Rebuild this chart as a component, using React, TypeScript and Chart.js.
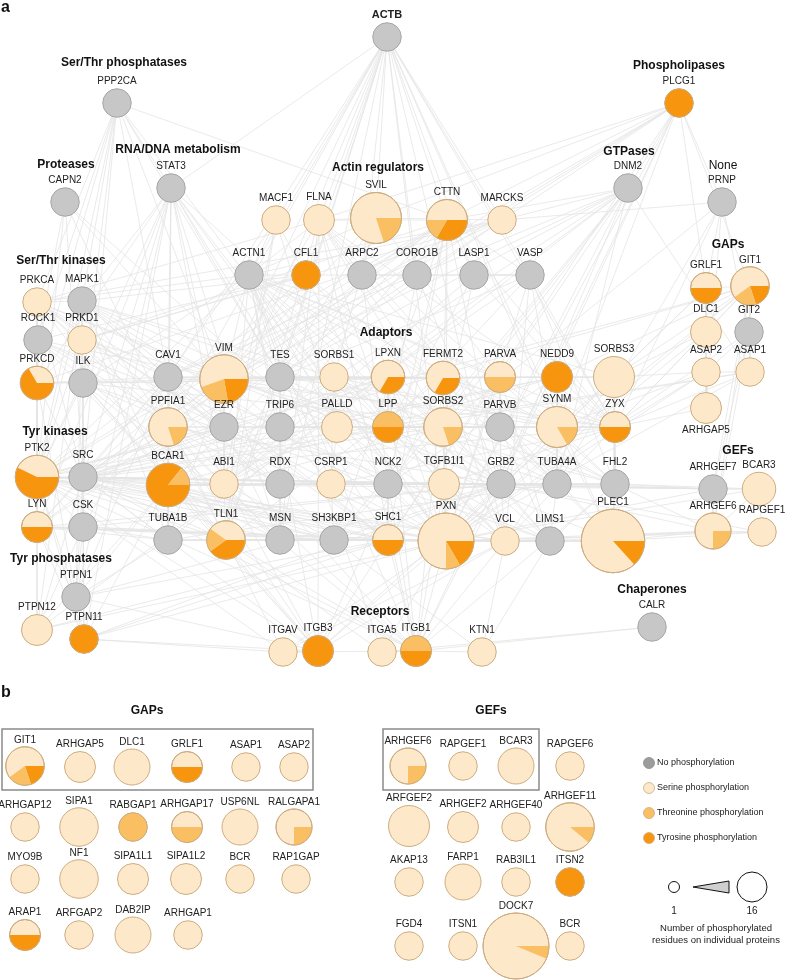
import { useEffect, useRef } from "react";
import { Chart, registerables } from "chart.js";
Chart.register(...registerables);

// [name, x, y, serine, threonine, tyrosine]
type NodeRow = [string, number, number, number, number, number];

const networkNodes: NodeRow[] = [
  ["ACTB", 387, 37, 0, 0, 0],
  ["PPP2CA", 117, 103, 0, 0, 0],
  ["STAT3", 171, 188, 0, 0, 0],
  ["CAPN2", 65, 202, 0, 0, 0],
  ["PLCG1", 679, 103, 0, 0, 1],
  ["DNM2", 628, 188, 0, 0, 0],
  ["PRNP", 722, 202, 0, 0, 0],
  ["MACF1", 276, 220, 1, 0, 0],
  ["FLNA", 319, 220, 2, 0, 0],
  ["SVIL", 376, 218, 8, 2, 0],
  ["CTTN", 447, 220, 3, 1, 2],
  ["MARCKS", 502, 220, 1, 0, 0],
  ["ACTN1", 249, 275, 0, 0, 0],
  ["CFL1", 306, 275, 0, 0, 1],
  ["ARPC2", 362, 275, 0, 0, 0],
  ["CORO1B", 417, 275, 0, 0, 0],
  ["LASP1", 474, 275, 0, 0, 0],
  ["VASP", 530, 275, 0, 0, 0],
  ["GRLF1", 706, 288, 1, 0, 1],
  ["GIT1", 750, 286, 3, 1, 1],
  ["PRKCA", 37, 302, 1, 0, 0],
  ["MAPK1", 82, 301, 0, 0, 0],
  ["ROCK1", 38, 340, 0, 0, 0],
  ["PRKD1", 82, 340, 1, 0, 0],
  ["DLC1", 706, 332, 2, 0, 0],
  ["GIT2", 749, 332, 0, 0, 0],
  ["PRKCD", 37, 383, 1, 0, 2],
  ["ILK", 83, 383, 0, 0, 0],
  ["CAV1", 168, 377, 0, 0, 0],
  ["VIM", 224, 379, 5, 2, 2],
  ["TES", 280, 377, 0, 0, 0],
  ["SORBS1", 334, 377, 1, 0, 0],
  ["LPXN", 388, 377, 2, 0, 1],
  ["FERMT2", 443, 378, 2, 0, 1],
  ["PARVA", 500, 377, 1, 1, 0],
  ["NEDD9", 557, 377, 0, 0, 2],
  ["SORBS3", 614, 377, 6, 0, 0],
  ["ASAP2", 706, 372, 1, 0, 0],
  ["ASAP1", 750, 372, 1, 0, 0],
  ["ARHGAP5", 706, 408, 2, 0, 0],
  ["PPFIA1", 168, 427, 4, 1, 0],
  ["EZR", 224, 427, 0, 0, 0],
  ["TRIP6", 280, 427, 0, 0, 0],
  ["PALLD", 337, 427, 2, 0, 0],
  ["LPP", 388, 427, 0, 1, 1],
  ["SORBS2", 443, 427, 4, 1, 0],
  ["PARVB", 500, 427, 0, 0, 0],
  ["SYNM", 557, 427, 5, 1, 0],
  ["ZYX", 615, 427, 1, 0, 1],
  ["PTK2", 37, 477, 3, 0, 4],
  ["SRC", 83, 477, 0, 0, 0],
  ["BCAR1", 168, 485, 0, 1, 6],
  ["ABI1", 224, 484, 1, 0, 0],
  ["RDX", 280, 484, 0, 0, 0],
  ["CSRP1", 331, 484, 1, 0, 0],
  ["NCK2", 388, 484, 0, 0, 0],
  ["TGFB1I1", 444, 484, 2, 0, 0],
  ["GRB2", 501, 484, 0, 0, 0],
  ["TUBA4A", 557, 484, 0, 0, 0],
  ["FHL2", 615, 484, 0, 0, 0],
  ["ARHGEF7", 713, 489, 0, 0, 0],
  ["BCAR3", 759, 489, 3, 0, 0],
  ["LYN", 37, 527, 1, 0, 1],
  ["CSK", 83, 527, 0, 0, 0],
  ["TUBA1B", 168, 540, 0, 0, 0],
  ["TLN1", 226, 540, 2, 1, 2],
  ["MSN", 280, 540, 0, 0, 0],
  ["SH3KBP1", 334, 540, 0, 0, 0],
  ["SHC1", 388, 540, 1, 0, 1],
  ["PXN", 446, 541, 9, 1, 2],
  ["VCL", 505, 541, 1, 0, 0],
  ["LIMS1", 550, 541, 0, 0, 0],
  ["PLEC1", 613, 541, 13, 0, 2],
  ["ARHGEF6", 713, 531, 3, 1, 0],
  ["RAPGEF1", 762, 532, 1, 0, 0],
  ["PTPN1", 76, 597, 0, 0, 0],
  ["PTPN12", 37, 630, 2, 0, 0],
  ["PTPN11", 84, 639, 0, 0, 1],
  ["CALR", 652, 627, 0, 0, 0],
  ["ITGAV", 283, 652, 1, 0, 0],
  ["ITGB3", 318, 651, 0, 0, 2],
  ["ITGA5", 382, 652, 1, 0, 0],
  ["ITGB1", 416, 651, 0, 1, 1],
  ["KTN1", 482, 652, 1, 0, 0],
];

const gapNodes: NodeRow[] = [
  ["GIT1", 25, 766, 3, 1, 1],
  ["ARHGAP5", 80, 767, 2, 0, 0],
  ["DLC1", 132, 767, 4, 0, 0],
  ["GRLF1", 187, 767, 1, 0, 1],
  ["ASAP1", 246, 767, 1, 0, 0],
  ["ASAP2", 294, 767, 1, 0, 0],
  ["ARHGAP12", 25, 827, 1, 0, 0],
  ["SIPA1", 79, 827, 5, 0, 0],
  ["RABGAP1", 133, 827, 0, 1, 0],
  ["ARHGAP17", 187, 827, 1, 1, 0],
  ["USP6NL", 240, 827, 4, 0, 0],
  ["RALGAPA1", 294, 827, 3, 1, 0],
  ["MYO9B", 25, 879, 1, 0, 0],
  ["NF1", 79, 879, 5, 0, 0],
  ["SIPA1L1", 133, 879, 2, 0, 0],
  ["SIPA1L2", 186, 879, 2, 0, 0],
  ["BCR", 240, 879, 1, 0, 0],
  ["RAP1GAP", 296, 879, 1, 0, 0],
  ["ARAP1", 25, 935, 1, 0, 1],
  ["ARFGAP2", 79, 935, 1, 0, 0],
  ["DAB2IP", 133, 935, 4, 0, 0],
  ["ARHGAP1", 188, 935, 1, 0, 0],
];

const gefNodes: NodeRow[] = [
  ["ARHGEF6", 408, 766, 3, 1, 0],
  ["RAPGEF1", 463, 766, 1, 0, 0],
  ["BCAR3", 516, 766, 4, 0, 0],
  ["RAPGEF6", 570, 766, 1, 0, 0],
  ["ARFGEF2", 409, 826, 6, 0, 0],
  ["ARHGEF2", 463, 827, 2, 0, 0],
  ["ARHGEF40", 516, 827, 1, 0, 0],
  ["ARHGEF11", 570, 827, 8, 1, 0],
  ["AKAP13", 409, 882, 1, 0, 0],
  ["FARP1", 463, 882, 4, 0, 0],
  ["RAB3IL1", 516, 882, 1, 0, 0],
  ["ITSN2", 570, 882, 0, 0, 1],
  ["FGD4", 409, 946, 1, 0, 0],
  ["ITSN1", 463, 946, 1, 0, 0],
  ["DOCK7", 516, 946, 15, 1, 0],
  ["BCR", 570, 946, 1, 0, 0],
];

// interactions: "source:target,target,..."
const adjacency: string[] = [
  "ACTB:SVIL,CTTN,MARCKS,VASP,LASP1,CORO1B,ARPC2,FLNA,CFL1,ACTN1,MACF1,STAT3,VIM,TES,EZR,MSN,TLN1,VCL,PXN,ZYX,PLEC1,CAV1,PPFIA1,SYNM",
  "PPP2CA:PRKCA,MAPK1,ROCK1,PRKCD,ILK,SRC,PTK2,STAT3,VIM,CTTN,PXN,CAV1,TES",
  "STAT3:SRC,PTK2,LYN,MAPK1,PRKCD,CAV1,PXN,TES,BCAR1,EZR,SHC1,GRB2,NCK2,PTPN11,PTPN1,TUBA1B,ABI1,MSN",
  "CAPN2:ROCK1,PTK2,TLN1,SRC,VIM,PXN",
  "PLCG1:CTTN,SVIL,SRC,PTK2,FLNA,DNM2,GIT1,GRLF1,PRNP,ITGB1,VIM,GRB2,SHC1,PXN,SYNM,LYN",
  "DNM2:CTTN,SRC,GRB2,NCK2,SHC1,TUBA4A,PXN,ABI1,SORBS2,VIM,CAV1,ASAP1,BCAR1,SH3KBP1,TUBA1B,MARCKS",
  "PRNP:GIT2,TUBA4A,ZYX,SORBS2,MARCKS,ARHGAP5,GRLF1",
  "MACF1:ACTN1,CAV1,TLN1,PXN,ABI1,PALLD",
  "FLNA:ACTN1,VIM,TLN1,ITGB1,ITGB3,MSN,ZYX,PRKCA,SVIL,GRB2,FHL2,LPP,ARPC2,SORBS2,PLEC1",
  "SVIL:ACTN1,VIM,ARPC2,MARCKS,SORBS1,PARVA,TES",
  "CTTN:SRC,PTK2,ABI1,CORO1B,ARPC2,SHC1,NCK2,GRB2,ZYX,VASP,LASP1,SORBS2,PXN,BCAR1,FLNA,SH3KBP1,CAV1,PRKD1,LYN",
  "MARCKS:PRKCA,PRKCD,PRKD1,CAV1,ACTN1,TES",
  "ACTN1:VIM,ZYX,TES,LPP,PALLD,TRIP6,CSRP1,FHL2,TLN1,VCL,ITGB1,PXN,PTK2,SORBS2,ILK,LIMS1,PARVA,CFL1,SORBS3,PRKCA,SYNM",
  "CFL1:ARPC2,VIM,SRC,LIMS1,MAPK1,TUBA4A,PRKD1,ROCK1",
  "ARPC2:CORO1B,VASP,ABI1,NCK2,TUBA4A",
  "CORO1B:VASP,LPP,GRB2",
  "LASP1:ZYX,LPP,VASP,SORBS2,ABI1",
  "VASP:ZYX,LPP,TES,VCL,ABI1,PXN,FHL2,SYNM",
  "PRKCA:PRKCD,MAPK1,CAV1,VIM,ITGB1,SRC,PTK2,GRB2,TLN1,EZR,MSN,RDX,SHC1",
  "MAPK1:PXN,PTPN1,VIM,FHL2,SHC1,GRB2,SRC,PTK2,BCAR1,ITGB3,SORBS1,TUBA1B,EZR,CAV1,PRKD1,PTPN12",
  "ROCK1:VIM,MSN,EZR,RDX,PTK2,LIMS1,PRKCD,TLN1",
  "PRKD1:PRKCD,VIM,SRC,PTK2,CAV1",
  "PRKCD:SRC,LYN,PTK2,VIM,ILK,CAV1,PTPN11",
  "ILK:PARVA,PARVB,LIMS1,ITGB1,ITGB3,PXN,FERMT2,TLN1,PTK2,SRC",
  "PTK2:SRC,BCAR1,PXN,TLN1,ITGB1,ITGB3,GRB2,SHC1,CAV1,PTPN11,PTPN1,PTPN12,NEDD9,GIT1,ARHGEF7,ASAP1,LPXN,VCL,TGFB1I1,SH3KBP1,LYN,CSK,EZR,ABI1,MSN",
  "SRC:CSK,LYN,BCAR1,PXN,CAV1,SHC1,GRB2,NCK2,ABI1,ITGB3,ITGB1,PTPN1,PTPN11,PTPN12,TUBA1B,TLN1,VIM,NEDD9,SORBS2,TGFB1I1,ARHGEF7,GIT1,ASAP1,SH3KBP1,EZR,VCL,ZYX,LPXN",
  "LYN:CSK,SHC1,GRB2,CAV1,PTPN11,PTPN1,PXN,SH3KBP1,TUBA1B",
  "CSK:PTPN12,PXN,CAV1,PTPN1,SH3KBP1,TUBA1B,GRB2,PTPN11",
  "PTPN1:BCAR1,ITGB3,TUBA1B,GRB2,CAV1,SHC1",
  "PTPN12:PXN,BCAR1,SHC1,LPXN",
  "PTPN11:SHC1,GRB2,BCAR1,ITGB3,ITGAV,PXN",
  "ITGAV:ITGB3,ITGB1,TLN1,PXN,VCL,PTK2",
  "ITGB3:TLN1,FERMT2,SHC1,GRB2,PXN,CAV1,ACTN1,BCAR1,VCL",
  "ITGA5:ITGB1,PXN,TLN1,ACTN1,CALR",
  "ITGB1:TLN1,FERMT2,PXN,CAV1,KTN1,LPXN,VCL,FHL2,TGFB1I1,CALR,GRB2,SHC1,NCK2",
  "KTN1:LIMS1,VCL,SH3KBP1",
  "CAV1:VIM,TES,SORBS1,EZR,PPFIA1,TRIP6,ZYX,SHC1",
  "VIM:PLEC1,SYNM,TES,PPFIA1,EZR,LPXN,TUBA4A,SORBS1,TRIP6,FERMT2,TUBA1B,FHL2",
  "TES:ZYX,LPP,SORBS1,PALLD,TRIP6,LPXN,ABI1",
  "SORBS1:VCL,PXN,LPXN,PALLD,ABI1,SORBS2,GRB2,FERMT2,SYNM,CSRP1",
  "LPXN:PXN,SORBS2,FERMT2,PARVA,TGFB1I1,LPP",
  "FERMT2:PARVA,PXN,TLN1,SYNM,SORBS3,VCL,ZYX,NEDD9",
  "PARVA:PXN,LIMS1,PARVB,NEDD9,SORBS3,TGFB1I1,GRB2,SYNM",
  "NEDD9:BCAR1,NCK2,ZYX,SORBS3,SYNM,TUBA4A,GIT1",
  "SORBS3:VCL,PXN,SYNM,ZYX,ASAP2,DLC1,GIT1,PLEC1,FHL2,GRLF1",
  "PPFIA1:EZR,TRIP6,BCAR1,ABI1,TLN1,RDX,GRB2",
  "EZR:MSN,RDX,TRIP6,PALLD,ABI1,PXN",
  "TRIP6:ZYX,LPP,PALLD,SORBS2,CSRP1,RDX,NCK2",
  "PALLD:LPP,SORBS2,PARVB,NCK2,CSRP1,ABI1,VCL",
  "LPP:ZYX,SORBS2,PARVB,SYNM,TGFB1I1,CSRP1",
  "SORBS2:PARVB,SYNM,ZYX,NCK2,TGFB1I1,GRB2,VCL,ABI1,TUBA4A,PXN",
  "PARVB:LIMS1,SYNM,GRB2,TUBA4A,FHL2",
  "SYNM:ZYX,PLEC1,TUBA4A,FHL2,ASAP2,GRB2",
  "ZYX:FHL2,VCL,PLEC1,ASAP2,ASAP1,DLC1,ARHGAP5,GIT1,TGFB1I1,CSRP1",
  "BCAR1:NCK2,SH3KBP1,PXN,ABI1,RDX,CSRP1,BCAR3,TUBA1B,TLN1,GRB2,SHC1,MSN,TGFB1I1",
  "ABI1:NCK2,SH3KBP1,RDX,CSRP1,GRB2,TLN1,MSN",
  "RDX:MSN,CSRP1,NCK2,SH3KBP1",
  "CSRP1:NCK2,TGFB1I1,SHC1,SH3KBP1",
  "NCK2:GRB2,TGFB1I1,SH3KBP1,SHC1,PXN,TUBA4A,FHL2",
  "TGFB1I1:PXN,GRB2,TUBA4A,FHL2,VCL,LIMS1",
  "GRB2:SHC1,SH3KBP1,TUBA4A,FHL2,PXN,VCL,LIMS1,ARHGEF6,ARHGEF7,GIT1,RAPGEF1",
  "TUBA4A:TUBA1B,FHL2,PLEC1,LIMS1,ARHGEF7",
  "FHL2:ARHGEF7,PLEC1,LIMS1,ARHGEF6,BCAR3",
  "TUBA1B:TLN1,MSN,SH3KBP1,PLEC1,SHC1",
  "TLN1:MSN,VCL,PXN,SH3KBP1,SHC1,LIMS1",
  "MSN:SH3KBP1,SHC1,PXN",
  "SH3KBP1:SHC1,PXN,VCL",
  "SHC1:PXN,VCL,LIMS1",
  "PXN:VCL,LIMS1,PLEC1,GIT1,GIT2,ARHGEF6,ARHGEF7,ASAP1,ASAP2,DLC1,GRLF1,BCAR3,RAPGEF1",
  "VCL:LIMS1,PLEC1,ARHGEF6",
  "LIMS1:PLEC1,ARHGEF6",
  "PLEC1:ARHGEF6,RAPGEF1",
  "GIT1:GIT2,ARHGEF7,ARHGEF6,GRLF1,DLC1,ASAP1",
  "GIT2:ARHGEF7,ARHGEF6,ASAP1,ASAP2",
  "GRLF1:DLC1,ARHGAP5",
  "DLC1:ASAP2,ARHGAP5",
  "ASAP2:ASAP1,ARHGAP5",
  "ARHGEF7:ARHGEF6,BCAR3",
  "BCAR3:RAPGEF1,ARHGEF6",
  "ARHGEF6:RAPGEF1",
];

// [text, x, y]
const groupTitles: [string, number, number][] = [
  ["Ser/Thr phosphatases", 124, 63],
  ["RNA/DNA metabolism", 178, 150],
  ["Proteases", 66, 165],
  ["Actin regulators", 378, 168],
  ["Phospholipases", 679, 66],
  ["GTPases", 629, 152],
  ["Ser/Thr kinases", 61, 261],
  ["GAPs", 728, 245],
  ["Adaptors", 386, 333],
  ["Tyr kinases", 55, 432],
  ["GEFs", 738, 451],
  ["Tyr phosphatases", 61, 559],
  ["Chaperones", 652, 590],
  ["Receptors", 380, 612],
  ["GAPs", 147, 711],
  ["GEFs", 491, 711],
];
const plainTitles: [string, number, number][] = [["None", 723, 166]];
const panelLetters: [string, number, number][] = [["a", 1, 8], ["b", 1, 693]];
const boldNodeLabels = ["ACTB"];
const labelsBelow = ["ARHGAP5@a"];
// [x0, y0, x1, y1]
const groupBoxes: [number, number, number, number][] = [
  [2, 729, 313, 790],
  [383, 729, 539, 790],
];
const legendItems = ["No phosphorylation", "Serine phosphorylation", "Threonine phosphorylation", "Tyrosine phosphorylation"];
const legendY = [763, 788, 813, 838];
const sizeLegendValues = [1, 16];
const sizeLegendCaption = ["Number of phosphorylated", "residues on individual proteins"];

const COLORS = {
  none: "#c7c7c7",
  noneBorder: "#a6a6a6",
  ser: "#fde9c9",
  thr: "#fbbf63",
  tyr: "#f7950f",
  pieBorder: "#cdac80",
  edge: "#e4e4e4",
  legendNone: "#9c9c9c",
};
const FONT = "'Liberation Sans', Arial, Helvetica, sans-serif";

const nodeRadius = (total: number) => 13 + 1.25 * Math.max(total, 1);

export default function App() {
  const ref = useRef<HTMLCanvasElement>(null);
  useEffect(() => {
    document.body.style.margin = "0";
    const canvas = ref.current;
    if (!canvas) return;

    const allNodes: NodeRow[] = [...networkNodes, ...gapNodes, ...gefNodes];
    const panelOf = allNodes.map((_, i) => (i < networkNodes.length ? "a" : "b"));
    const idx = new Map<string, number>(networkNodes.map((n, i) => [n[0], i]));
    const seen = new Set<string>();
    const edgePts: { x: number; y: number }[] = [];
    for (const line of adjacency) {
      const [src, rest] = line.split(":");
      for (const t of rest.split(",")) {
        const a = idx.get(src);
        const b = idx.get(t);
        if (a === undefined || b === undefined || a === b) continue;
        const key = a < b ? a + "-" + b : b + "-" + a;
        if (seen.has(key)) continue;
        seen.add(key);
        edgePts.push(
          { x: networkNodes[a][1], y: networkNodes[a][2] },
          { x: networkNodes[b][1], y: networkNodes[b][2] },
          { x: NaN, y: NaN }
        );
      }
    }

    const totals = allNodes.map((n) => n[3] + n[4] + n[5]);
    const radii = totals.map((t) => nodeRadius(t));

    const overlay = {
      id: "pieOverlay",
      afterDatasetsDraw(chart: any) {
        const ctx = chart.ctx as CanvasRenderingContext2D;
        const meta = chart.getDatasetMeta(0);
        const xs = chart.scales.x;
        const ys = chart.scales.y;
        ctx.save();
        // group boxes
        ctx.strokeStyle = "#8a8a8a";
        ctx.lineWidth = 1.5;
        for (const [x0, y0, x1, y1] of groupBoxes) {
          const px0 = xs.getPixelForValue(x0);
          const py0 = ys.getPixelForValue(y0);
          const px1 = xs.getPixelForValue(x1);
          const py1 = ys.getPixelForValue(y1);
          ctx.strokeRect(px0, py0, px1 - px0, py1 - py0);
        }
        // pie wedges
        allNodes.forEach((n, i) => {
          const el = meta.data[i];
          const cx = el.x;
          const cy = el.y;
          const r = radii[i];
          const total = totals[i];
          const [, , , , thr, tyr] = n;
          if (total > 0 && (thr > 0 || tyr > 0)) {
            let a0 = 0;
            const parts: [number, string][] = [
              [tyr, COLORS.tyr],
              [thr, COLORS.thr],
            ];
            for (const [cnt, col] of parts) {
              if (cnt <= 0) continue;
              const a1 = a0 + (cnt / total) * Math.PI * 2;
              ctx.beginPath();
              ctx.moveTo(cx, cy);
              ctx.arc(cx, cy, r, a0, a1);
              ctx.closePath();
              ctx.fillStyle = col;
              ctx.fill();
              a0 = a1;
            }
            ctx.beginPath();
            ctx.arc(cx, cy, r, 0, Math.PI * 2);
            ctx.strokeStyle = COLORS.pieBorder;
            ctx.lineWidth = 1;
            ctx.stroke();
          }
        });
        // labels
        ctx.textAlign = "center";
        ctx.textBaseline = "middle";
        ctx.fillStyle = "#222";
        allNodes.forEach((n, i) => {
          const el = meta.data[i];
          const r = radii[i];
          const bold = boldNodeLabels.includes(n[0]);
          ctx.font = (bold ? "bold 11px " : "10px ") + FONT;
          const below = labelsBelow.includes(n[0] + "@" + panelOf[i]);
          const off = Math.max(r, 15) + 7;
          ctx.fillText(n[0], el.x, below ? el.y + off : el.y - off);
        });
        // titles
        ctx.fillStyle = "#111";
        ctx.font = "bold 12px " + FONT;
        for (const [t, x, y] of groupTitles) {
          ctx.fillText(t, xs.getPixelForValue(x), ys.getPixelForValue(y));
        }
        ctx.font = "12px " + FONT;
        for (const [t, x, y] of plainTitles) {
          ctx.fillText(t, xs.getPixelForValue(x), ys.getPixelForValue(y));
        }
        ctx.textAlign = "left";
        ctx.font = "bold 16px " + FONT;
        for (const [t, x, y] of panelLetters) {
          ctx.fillText(t, xs.getPixelForValue(x), ys.getPixelForValue(y));
        }
        // colour legend
        const legendFill = [COLORS.legendNone, COLORS.ser, COLORS.thr, COLORS.tyr];
        ctx.font = "9px " + FONT;
        legendItems.forEach((t, i) => {
          const px = xs.getPixelForValue(649);
          const py = ys.getPixelForValue(legendY[i]);
          ctx.beginPath();
          ctx.arc(px, py, 5.5, 0, Math.PI * 2);
          ctx.fillStyle = legendFill[i];
          ctx.fill();
          ctx.strokeStyle = i === 0 ? "#8c8c8c" : COLORS.pieBorder;
          ctx.lineWidth = 0.8;
          ctx.stroke();
          ctx.fillStyle = "#222";
          ctx.fillText(t, xs.getPixelForValue(657), py);
        });
        // size legend
        const sy = ys.getPixelForValue(887);
        const sx1 = xs.getPixelForValue(674);
        const sx2 = xs.getPixelForValue(752);
        ctx.strokeStyle = "#111";
        ctx.lineWidth = 1;
        ctx.beginPath();
        ctx.arc(sx1, sy, 5.5, 0, Math.PI * 2);
        ctx.fillStyle = "#fff";
        ctx.fill();
        ctx.stroke();
        ctx.beginPath();
        ctx.arc(sx2, sy, 15, 0, Math.PI * 2);
        ctx.fill();
        ctx.stroke();
        ctx.beginPath();
        ctx.moveTo(xs.getPixelForValue(693), sy);
        ctx.lineTo(xs.getPixelForValue(729), ys.getPixelForValue(881));
        ctx.lineTo(xs.getPixelForValue(729), ys.getPixelForValue(893));
        ctx.closePath();
        ctx.fillStyle = "#cfcfcf";
        ctx.fill();
        ctx.stroke();
        ctx.fillStyle = "#222";
        ctx.textAlign = "center";
        ctx.font = "10px " + FONT;
        ctx.fillText(String(sizeLegendValues[0]), sx1, ys.getPixelForValue(911));
        ctx.fillText(String(sizeLegendValues[1]), sx2, ys.getPixelForValue(911));
        ctx.font = "9.5px " + FONT;
        ctx.fillText(sizeLegendCaption[0], xs.getPixelForValue(716), ys.getPixelForValue(928));
        ctx.fillText(sizeLegendCaption[1], xs.getPixelForValue(716), ys.getPixelForValue(940));
        ctx.restore();
      },
    };

    const chart = new Chart(canvas, {
      type: "scatter",
      data: {
        datasets: [
          {
            label: "proteins",
            order: 1,
            clip: false,
            data: allNodes.map((n) => ({ x: n[1], y: n[2] })),
            pointRadius: radii,
            pointHoverRadius: radii,
            pointBackgroundColor: totals.map((t) => (t > 0 ? COLORS.ser : COLORS.none)),
            pointBorderColor: totals.map((t) => (t > 0 ? COLORS.pieBorder : COLORS.noneBorder)),
            pointBorderWidth: 1,
          } as any,
          {
            label: "interactions",
            order: 2,
            data: edgePts,
            showLine: true,
            spanGaps: false,
            borderColor: COLORS.edge,
            borderWidth: 0.8,
            pointRadius: 0,
            pointHoverRadius: 0,
          } as any,
        ],
      },
      options: {
        animation: false,
        responsive: true,
        maintainAspectRatio: false,
        devicePixelRatio: 1,
        events: [],
        layout: { padding: 0, autoPadding: false },
        plugins: { legend: { display: false }, tooltip: { enabled: false }, title: { display: false } },
        scales: {
          x: { type: "linear", min: 0, max: 786, display: false },
          y: { type: "linear", min: 0, max: 980, reverse: true, display: false },
        },
      },
      plugins: [overlay],
    });
    return () => chart.destroy();
  }, []);

  return (
    <div style={{ position: "relative", width: 786, height: 980 }}>
      <canvas ref={ref} />
    </div>
  );
}
